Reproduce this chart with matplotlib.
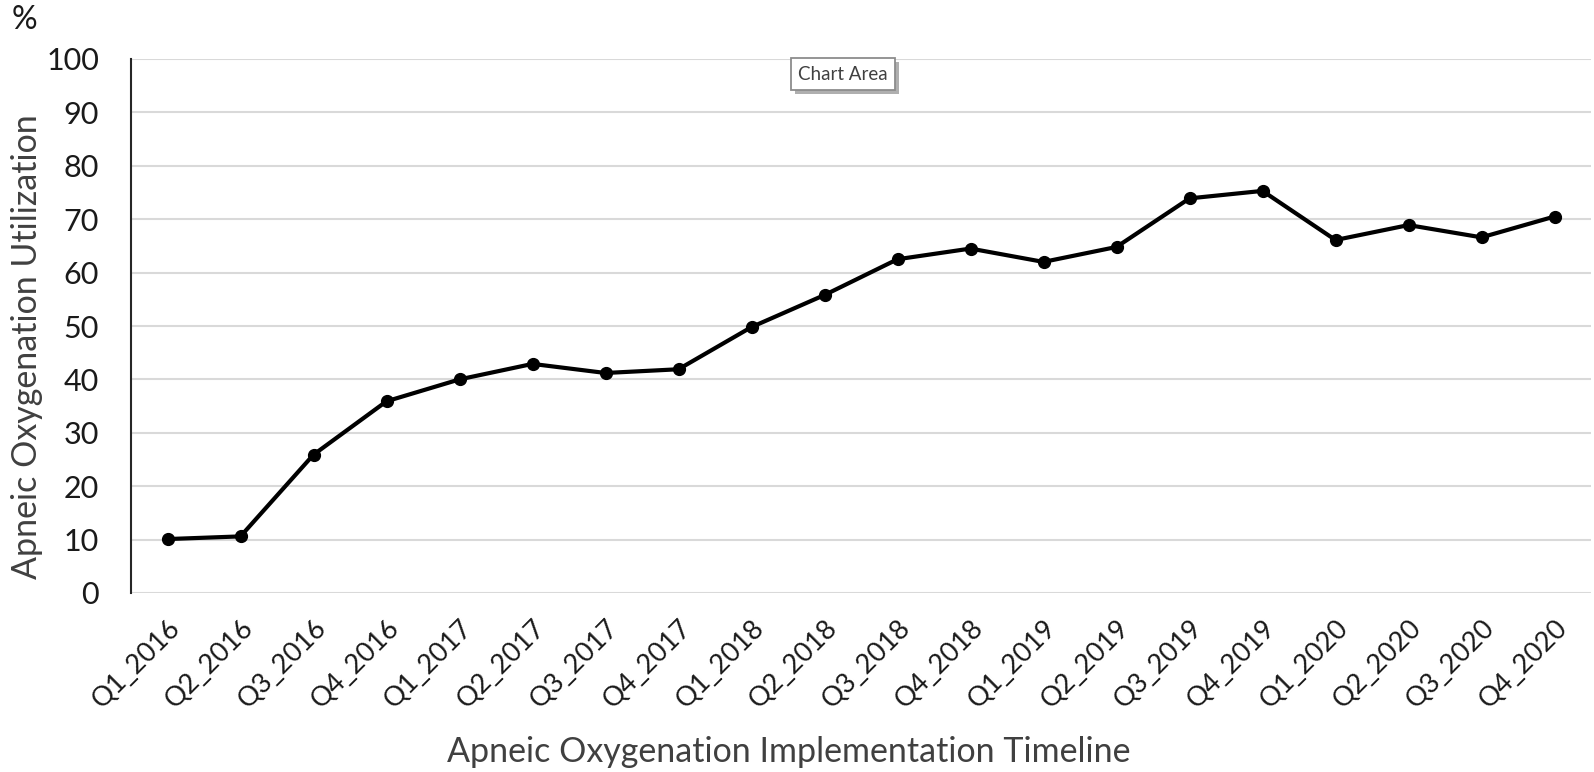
import matplotlib
matplotlib.use("Agg")
import matplotlib.pyplot as plt
import matplotlib.patheffects as pe

# quarterly utilization (%)
quarters = ["Q1_2016", "Q2_2016", "Q3_2016", "Q4_2016",
            "Q1_2017", "Q2_2017", "Q3_2017", "Q4_2017",
            "Q1_2018", "Q2_2018", "Q3_2018", "Q4_2018",
            "Q1_2019", "Q2_2019", "Q3_2019", "Q4_2019",
            "Q1_2020", "Q2_2020", "Q3_2020", "Q4_2020"]
utilization = [10.1, 10.6, 25.9, 35.9,
               40.0, 42.9, 41.2, 41.9,
               49.8, 55.8, 62.5, 64.5,
               62.0, 64.8, 73.9, 75.3,
               66.1, 68.9, 66.6, 70.5]
y_ticks = list(range(0, 101, 10))

plt.rcParams['font.family'] = ['Lato', 'DejaVu Sans']

fig = plt.figure(figsize=(15.94, 7.72), dpi=100)
ax = fig.add_axes([131 / 1594, 1 - 593 / 772, 1460 / 1594, 534 / 772])

x = range(len(quarters))
ax.plot(x, utilization, color='black', linewidth=3.0, marker='o', markersize=8.5, zorder=3)

ax.set_xlim(-0.5, len(quarters) - 0.5)
ax.set_ylim(0, 100)
ax.set_yticks(y_ticks)
ax.set_xticks(list(x))
ax.set_xticklabels(quarters, rotation=45, ha='right', rotation_mode='anchor')
ax.tick_params(axis='both', length=0, colors='#1a1a1a')
ax.tick_params(axis='y', labelsize=22, pad=23)
ax.tick_params(axis='x', labelsize=19.5, pad=16)

ax.grid(axis='y', color='#d9d9d9', linewidth=1.5, zorder=0)
ax.set_axisbelow(True)
for side in ['top', 'right', 'bottom']:
    ax.spines[side].set_visible(False)
ax.spines['left'].set_color('#262626')
ax.spines['left'].set_linewidth(1.5)

fig.text(789 / 1594, 1 - 752 / 772,
         'Apneic Oxygenation Implementation Timeline',
         ha='center', va='center', fontsize=24.5, color='#404040')
fig.text(27 / 1594, 1 - 347 / 772, 'Apneic Oxygenation Utilization',
         ha='center', va='center', rotation=90, fontsize=24.5, color='#404040')
fig.text(12 / 1594, 1 - 20 / 772, '%', ha='left', va='center', fontsize=23, color='#1a1a1a')

# "Chart Area" tooltip box
tip = fig.text(843 / 1594, 1 - 74 / 772, 'Chart Area', ha='center', va='center',
               fontsize=13.5, color='#404040',
               bbox=dict(boxstyle='square,pad=0.4', facecolor='white',
                         edgecolor='#8c8c8c', linewidth=1.3))
tip.get_bbox_patch().set_path_effects([
    pe.SimplePatchShadow(offset=(3, -3), shadow_rgbFace='#a6a6a6', alpha=0.9),
    pe.Normal()])

fig.savefig('out.png', dpi=100)
